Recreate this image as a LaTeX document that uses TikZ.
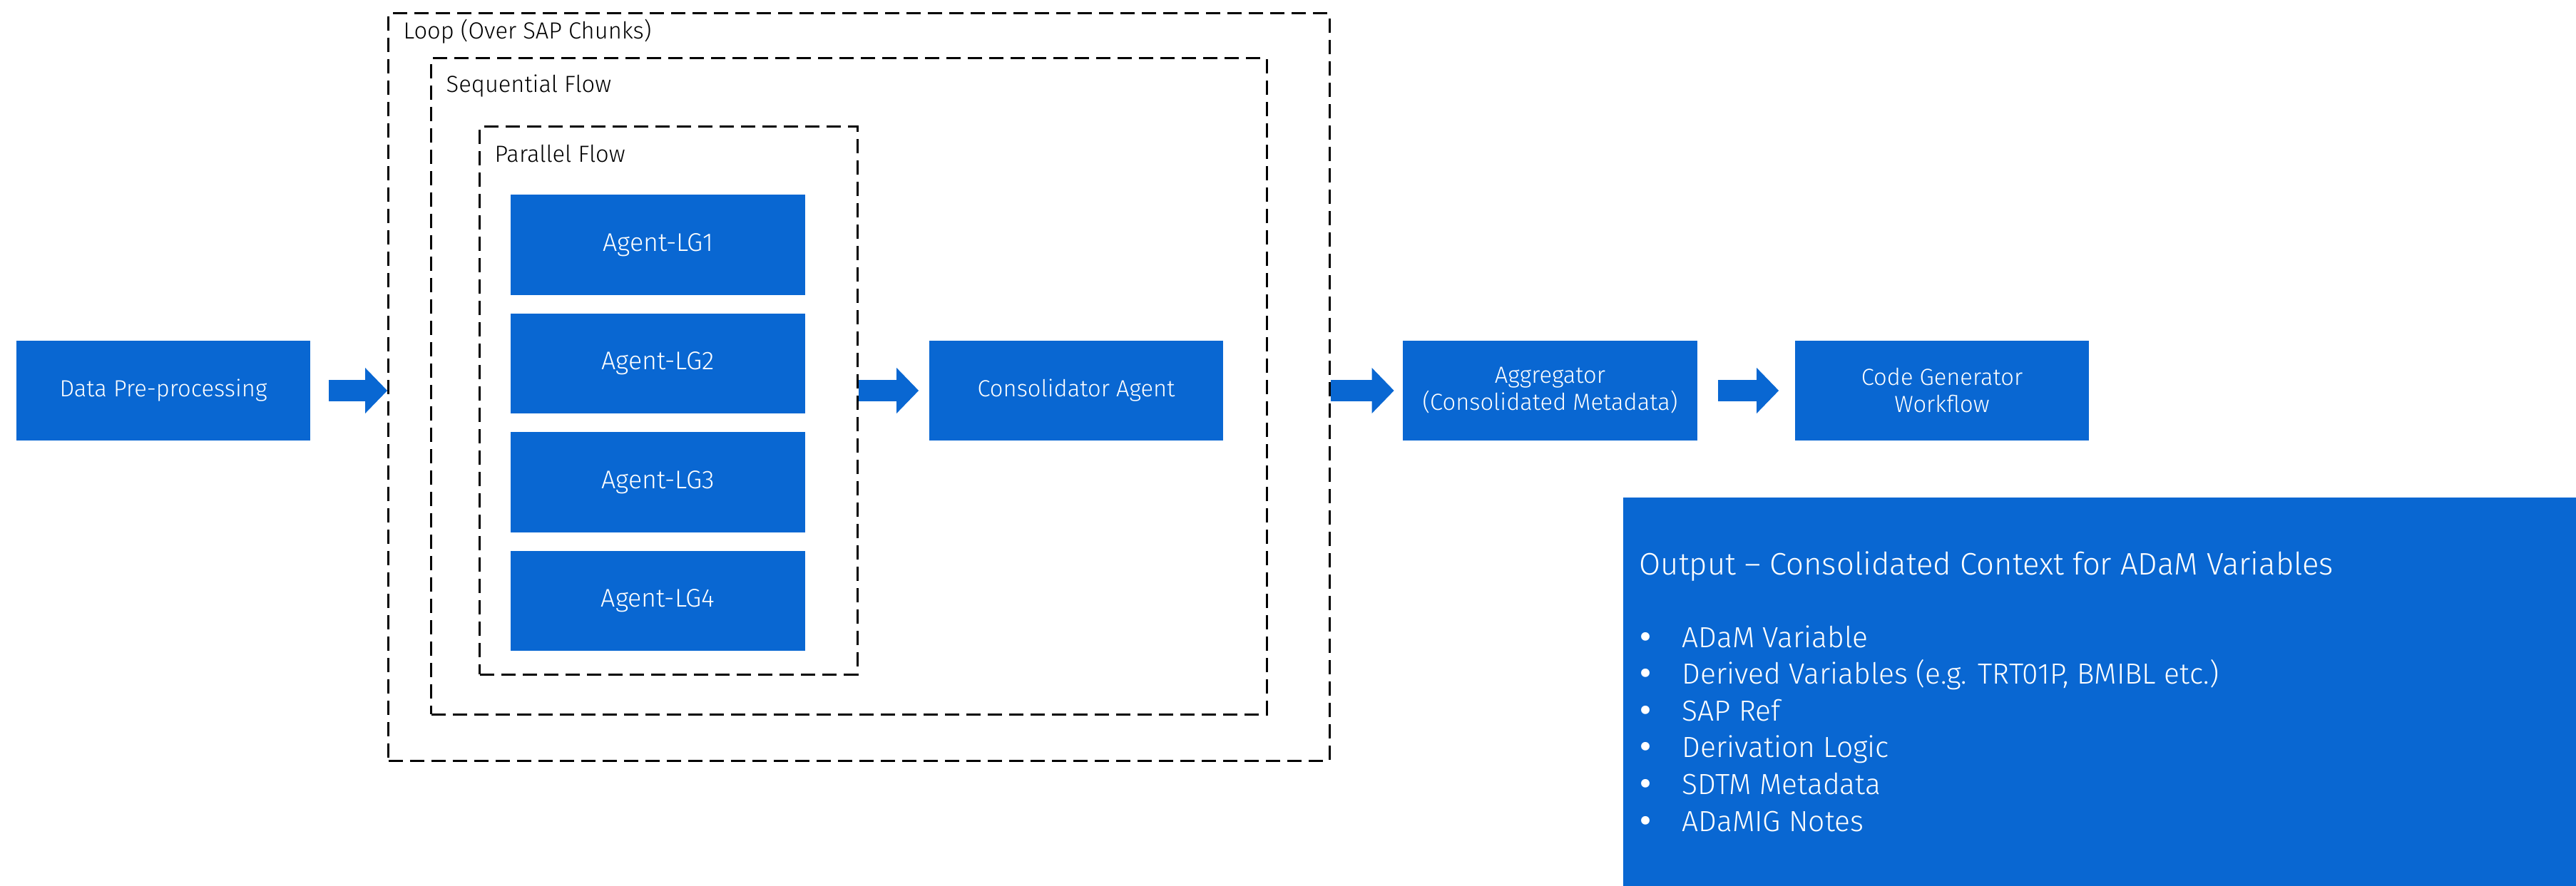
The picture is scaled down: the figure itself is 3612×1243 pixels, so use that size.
\documentclass[tikz,border=0pt]{standalone}
\usepackage{fontspec}
\setmainfont{Fira Sans}[UprightFont=* Light]
\newfontfamily\bulletFont{DejaVu Sans}
\usetikzlibrary{arrows.meta}

\definecolor{flowBlue}{RGB}{9,103,210}

\tikzstyle{stage}=[rectangle, fill=flowBlue, text=white, inner sep=0pt, minimum width=4.12cm, minimum height=1.4cm, align=center, font=\fontsize{9.3}{10.8}\selectfont]
\tikzstyle{agent}=[stage, minimum width=4.13cm, font=\fontsize{10.2}{12}\selectfont]
\tikzstyle{group}=[rectangle, draw=black, line width=0.03cm, dash pattern=on 0.2cm off 0.1cm, inner sep=0pt]
\tikzstyle{groupLabel}=[anchor=base west, inner sep=0pt, font=\fontsize{9.3}{10}\selectfont]
\tikzstyle{flowArrow}=[draw=flowBlue, line width=0.3cm, -{Triangle[length=0.31cm, width=0.62cm]}]
\tikzstyle{outText}=[anchor=base west, inner sep=0pt, text=white, font=\fontsize{11.6}{13}\selectfont]

\begin{document}
\begin{tikzpicture}[x=0.01cm, y=-0.01cm]

	\useasboundingbox (0,0) rectangle (3612,1243);

	% Gruppen
	\node(loop) at (1204.5,543) [group, minimum width=13.19cm, minimum height=10.48cm] {};
	\node(sequential) at (1190.5,542) [group, minimum width=11.71cm, minimum height=9.2cm] {};
	\node(parallel) at (937.5,562) [group, minimum width=5.29cm, minimum height=7.68cm] {};

	\node(loopLabel) at (565,55) [groupLabel] {Loop (Over SAP Chunks)};
	\node(sequentialLabel) at (625,130) [groupLabel] {Sequential Flow};
	\node(parallelLabel) at (693,228) [groupLabel] {Parallel Flow};

	% Stufen
	\node(dpp) at (229,548) [stage] {Data Pre-processing};
	\foreach \i in {1,2,3,4}
		{
			\node(agent\i) at (922.5,{343.5+166.5*(\i-1)}) [agent] {Agent-LG\i};
		}
	\node(consolidator) at (1509,548) [stage] {Consolidator Agent};
	\node(aggregator) at (2173.5,548) [stage] {Aggregator\\(Consolidated Metadata)};
	\node(codegen) at (2723,548) [stage] {Code Generator\\Workflow};

	% Pfeile
	\draw[flowArrow, shorten <=0.25cm] (dpp.east) -- (dpp.east -| loop.west);
	\draw[flowArrow, shorten >=0.14cm] (consolidator.west -| parallel.east) -- (consolidator.west);
	\draw[flowArrow, shorten >=0.12cm] (aggregator.west -| loop.east) -- (aggregator.west);
	\draw[flowArrow, shorten <=0.29cm, shorten >=0.22cm] (aggregator.east) -- (codegen.west);

	% Ausgabe
	\node(output) at (2944,970.5) [rectangle, fill=flowBlue, inner sep=0pt, minimum width=13.36cm, minimum height=5.45cm] {};
	\node(outputTitle) at (2298,806) [outText, font=\fontsize{12.4}{14}\selectfont] {Output – Consolidated Context for ADaM Variables};
	\foreach \txt [count=\i] in {ADaM Variable, {Derived Variables (e.g. TRT01P, BMIBL etc.)}, SAP Ref, Derivation Logic, SDTM Metadata, ADaMIG Notes}
		{
			\node(bullet\i) at (2295,{908+51.6*(\i-1)}) [outText, font=\fontsize{11.6}{13}\bulletFont] {•};
			\node(item\i) at (2358,{908+51.6*(\i-1)}) [outText] {\txt};
		}

\end{tikzpicture}
\end{document}
